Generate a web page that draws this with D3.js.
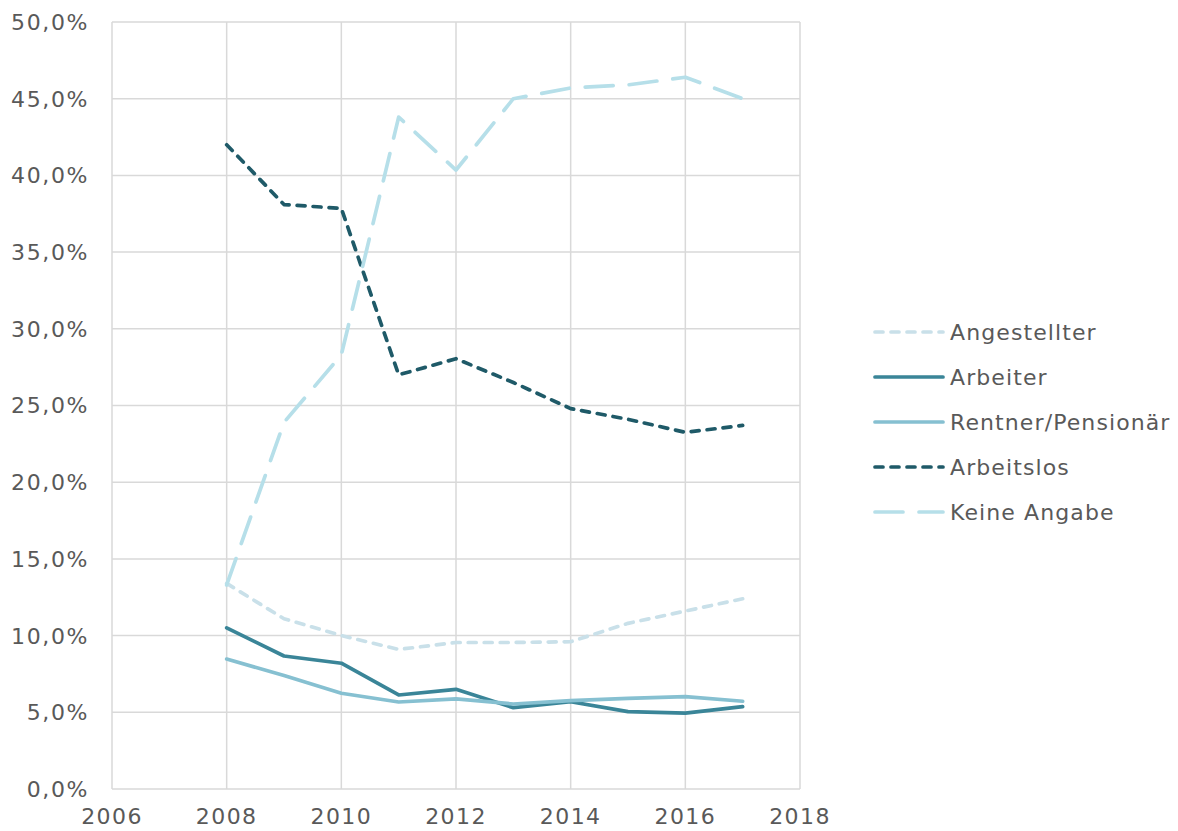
<!DOCTYPE html>
<html><head><meta charset="utf-8">
<script src="https://cdn.jsdelivr.net/npm/d3@7"></script>
<style>body{margin:0;background:#fff;} text{font-family:"DejaVu Sans",Verdana,sans-serif;}</style>
</head><body><svg id="c" width="1178" height="831"></svg>
<script>
const years = [2008,2009,2010,2011,2012,2013,2014,2015,2016,2017];
const angestellter = [13.4,11.1,10.0,9.1,9.55,9.55,9.6,10.8,11.6,12.4];
const arbeiter = [10.5,8.67,8.2,6.13,6.5,5.3,5.69,5.04,4.95,5.37];
const rentner = [8.47,7.4,6.24,5.67,5.87,5.54,5.76,5.91,6.02,5.72];
const arbeitslos = [42.0,38.1,37.85,27.0,28.05,26.5,24.8,24.1,23.25,23.7];
const keineAngabe = [13.3,23.9,28.3,43.8,40.35,45.0,45.7,45.9,46.4,45.0];
const xTicks = [2006,2008,2010,2012,2014,2016,2018];
const yTicks = [0,5,10,15,20,25,30,35,40,45,50];

const series = [
  {name:"Angestellter", values:angestellter, color:"#c9e0e9", dash:"8,8"},
  {name:"Arbeiter", values:arbeiter, color:"#3a8598", dash:null},
  {name:"Rentner/Pensionär", values:rentner, color:"#86c0d1", dash:null},
  {name:"Arbeitslos", values:arbeitslos, color:"#1f5a68", dash:"8,8"},
  {name:"Keine Angabe", values:keineAngabe, color:"#b6dfe9", dash:"28,16"}
];

const svg = d3.select("#c");
const x = d3.scaleLinear().domain([2006,2018]).range([112,800]);
const y = d3.scaleLinear().domain([0,50]).range([789,22]);
const grid = "#d9d9d9", txt = "#595959";

svg.append("g").selectAll("line").data(yTicks).join("line")
  .attr("x1",x(2006)).attr("x2",x(2018)).attr("y1",d=>y(d)).attr("y2",d=>y(d))
  .attr("stroke",grid).attr("stroke-width",1.5);
svg.append("g").selectAll("line").data(xTicks).join("line")
  .attr("y1",y(0)).attr("y2",y(50)).attr("x1",d=>x(d)).attr("x2",d=>x(d))
  .attr("stroke",grid).attr("stroke-width",1.5);

const fmt = d => d.toFixed(1).replace(".",",")+"%";
svg.append("g").selectAll("text").data(yTicks).join("text")
  .attr("x",89).attr("y",d=>y(d)).attr("dy","0.36em").attr("text-anchor","end")
  .attr("font-size",22).attr("letter-spacing",1.6).attr("fill",txt).text(fmt);
svg.append("g").selectAll("text").data(xTicks).join("text")
  .attr("x",d=>x(d)).attr("y",824).attr("text-anchor","middle")
  .attr("font-size",22).attr("letter-spacing",1.4).attr("fill",txt).text(d=>d);

const line = d3.line().x((d,i)=>x(years[i])).y(d=>y(d));
series.forEach(s=>{
  svg.append("path").datum(s.values).attr("d",line)
    .attr("fill","none").attr("stroke",s.color).attr("stroke-width",3.7)
    .attr("stroke-linecap","round").attr("stroke-linejoin","round")
    .attr("stroke-dasharray",s.dash);
});

const lg = svg.append("g");
series.forEach((s,i)=>{
  const yy = 332 + i*45;
  lg.append("line").attr("x1",875).attr("x2",943).attr("y1",yy).attr("y2",yy)
    .attr("stroke",s.color).attr("stroke-width",3.7).attr("stroke-linecap","round")
    .attr("stroke-dasharray",s.dash);
  lg.append("text").attr("x",950).attr("y",yy).attr("dy","0.36em")
    .attr("font-size",22).attr("letter-spacing",1.1).attr("fill",txt).text(s.name);
});
</script></body></html>
